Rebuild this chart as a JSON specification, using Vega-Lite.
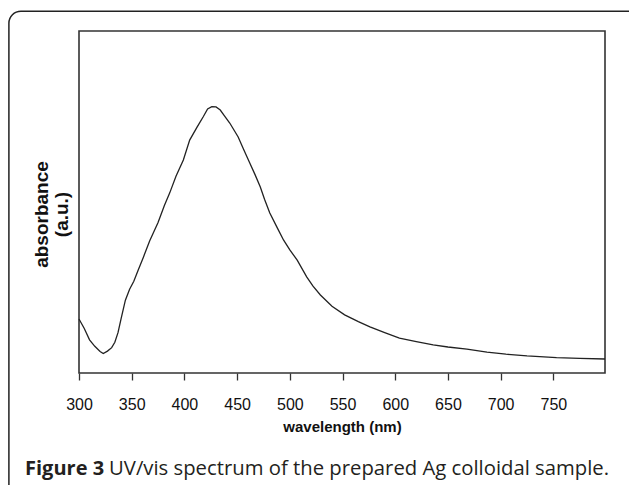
{
  "$schema": "https://vega.github.io/schema/vega-lite/v6.json",
  "autosize": "none",
  "width": 526,
  "height": 342,
  "padding": {"left": 79, "top": 31, "right": 24, "bottom": 112},
  "background": "white",
  "config": {
    "view": {"stroke": "#333333", "strokeWidth": 1.6},
    "font": "Liberation Sans"
  },
  "layer": [
    {
      "data": {"values": [{}]},
      "mark": {"type": "rect", "fill": null, "stroke": "#222222", "strokeWidth": 1.5, "cornerRadius": 12},
      "encoding": {
        "x": {"datum": 233.5, "type": "quantitative"},
        "x2": {"datum": 850},
        "y": {"datum": 1.058, "type": "quantitative"},
        "y2": {"datum": -0.4}
      }
    },
    {
      "data": {"values": [{}]},
      "mark": {"type": "text", "text": "Figure 3", "font": "Open Sans", "fontSize": 20, "fontWeight": "bold", "color": "#231f20", "align": "left", "baseline": "middle"},
      "encoding": {
        "x": {"datum": 248.8, "type": "quantitative"},
        "y": {"datum": -0.281, "type": "quantitative"}
      }
    },
    {
      "data": {"values": [{}]},
      "mark": {"type": "text", "text": "UV/vis spectrum of the prepared Ag colloidal sample.", "font": "Open Sans", "fontSize": 20.3, "fontWeight": "normal", "color": "#231f20", "align": "left", "baseline": "middle"},
      "encoding": {
        "x": {"datum": 328.5, "type": "quantitative"},
        "y": {"datum": -0.281, "type": "quantitative"}
      }
    },
    {
      "data": {
        "values": [
          {"wavelength": 300, "absorbance": 0.158},
          {"wavelength": 305, "absorbance": 0.13},
          {"wavelength": 310, "absorbance": 0.097},
          {"wavelength": 315, "absorbance": 0.078},
          {"wavelength": 320, "absorbance": 0.063},
          {"wavelength": 323, "absorbance": 0.057},
          {"wavelength": 327, "absorbance": 0.064},
          {"wavelength": 331, "absorbance": 0.074},
          {"wavelength": 334, "absorbance": 0.09},
          {"wavelength": 337, "absorbance": 0.118},
          {"wavelength": 340, "absorbance": 0.16},
          {"wavelength": 344, "absorbance": 0.213},
          {"wavelength": 348, "absorbance": 0.245},
          {"wavelength": 352, "absorbance": 0.268},
          {"wavelength": 356, "absorbance": 0.3},
          {"wavelength": 361, "absorbance": 0.338},
          {"wavelength": 367, "absorbance": 0.386},
          {"wavelength": 375, "absorbance": 0.44},
          {"wavelength": 381, "absorbance": 0.49},
          {"wavelength": 386, "absorbance": 0.526},
          {"wavelength": 392, "absorbance": 0.575},
          {"wavelength": 399, "absorbance": 0.623},
          {"wavelength": 405, "absorbance": 0.681},
          {"wavelength": 412, "absorbance": 0.719},
          {"wavelength": 418, "absorbance": 0.75},
          {"wavelength": 422, "absorbance": 0.772},
          {"wavelength": 426, "absorbance": 0.779},
          {"wavelength": 430, "absorbance": 0.778},
          {"wavelength": 434, "absorbance": 0.769},
          {"wavelength": 438, "absorbance": 0.752},
          {"wavelength": 443, "absorbance": 0.731},
          {"wavelength": 451, "absorbance": 0.69},
          {"wavelength": 456, "absorbance": 0.655},
          {"wavelength": 462, "absorbance": 0.614},
          {"wavelength": 467, "absorbance": 0.58},
          {"wavelength": 472, "absorbance": 0.544},
          {"wavelength": 476, "absorbance": 0.508},
          {"wavelength": 481, "absorbance": 0.468},
          {"wavelength": 488, "absorbance": 0.425},
          {"wavelength": 494, "absorbance": 0.389},
          {"wavelength": 500, "absorbance": 0.36},
          {"wavelength": 507, "absorbance": 0.33},
          {"wavelength": 516, "absorbance": 0.281},
          {"wavelength": 522, "absorbance": 0.254},
          {"wavelength": 529, "absorbance": 0.228},
          {"wavelength": 540, "absorbance": 0.195},
          {"wavelength": 552, "absorbance": 0.17},
          {"wavelength": 565, "absorbance": 0.15},
          {"wavelength": 576, "absorbance": 0.135},
          {"wavelength": 590, "absorbance": 0.118},
          {"wavelength": 604, "absorbance": 0.102},
          {"wavelength": 620, "absorbance": 0.092},
          {"wavelength": 636, "absorbance": 0.082},
          {"wavelength": 650, "absorbance": 0.076},
          {"wavelength": 668, "absorbance": 0.07},
          {"wavelength": 687, "absorbance": 0.061},
          {"wavelength": 705, "absorbance": 0.055},
          {"wavelength": 725, "absorbance": 0.05},
          {"wavelength": 753, "absorbance": 0.045},
          {"wavelength": 775, "absorbance": 0.043},
          {"wavelength": 799, "absorbance": 0.041}
        ]
      },
      "mark": {"type": "line", "color": "#222222", "strokeWidth": 1.3},
      "encoding": {
        "x": {
          "field": "wavelength",
          "type": "quantitative",
          "scale": {"domain": [300, 799], "nice": false, "zero": false},
          "axis": {
            "values": [300, 350, 400, 450, 500, 550, 600, 650, 700, 750],
            "title": "wavelength (nm)",
            "grid": false,
            "domain": false,
            "labelFlush": false,
            "labelOverlap": false,
            "tickColor": "#333333",
            "tickSize": 7,
            "tickWidth": 1.3,
            "labelFont": "Liberation Sans",
            "labelFontSize": 16,
            "labelColor": "#111111",
            "labelPadding": 16,
            "titleFont": "Liberation Sans",
            "titleFontSize": 15,
            "titleFontWeight": "bold",
            "titleColor": "#111111",
            "titlePadding": 7
          }
        },
        "y": {
          "field": "absorbance",
          "type": "quantitative",
          "scale": {"domain": [0, 1], "nice": false, "zero": false},
          "axis": {
            "title": ["absorbance", "(a.u.)"],
            "labels": false,
            "ticks": false,
            "domain": false,
            "grid": false,
            "titleFont": "Liberation Sans",
            "titleFontSize": 19,
            "titleFontWeight": "bold",
            "titleColor": "#111111",
            "titleLineHeight": 20,
            "titlePadding": 8,
            "titleY": 183
          }
        }
      }
    }
  ]
}
